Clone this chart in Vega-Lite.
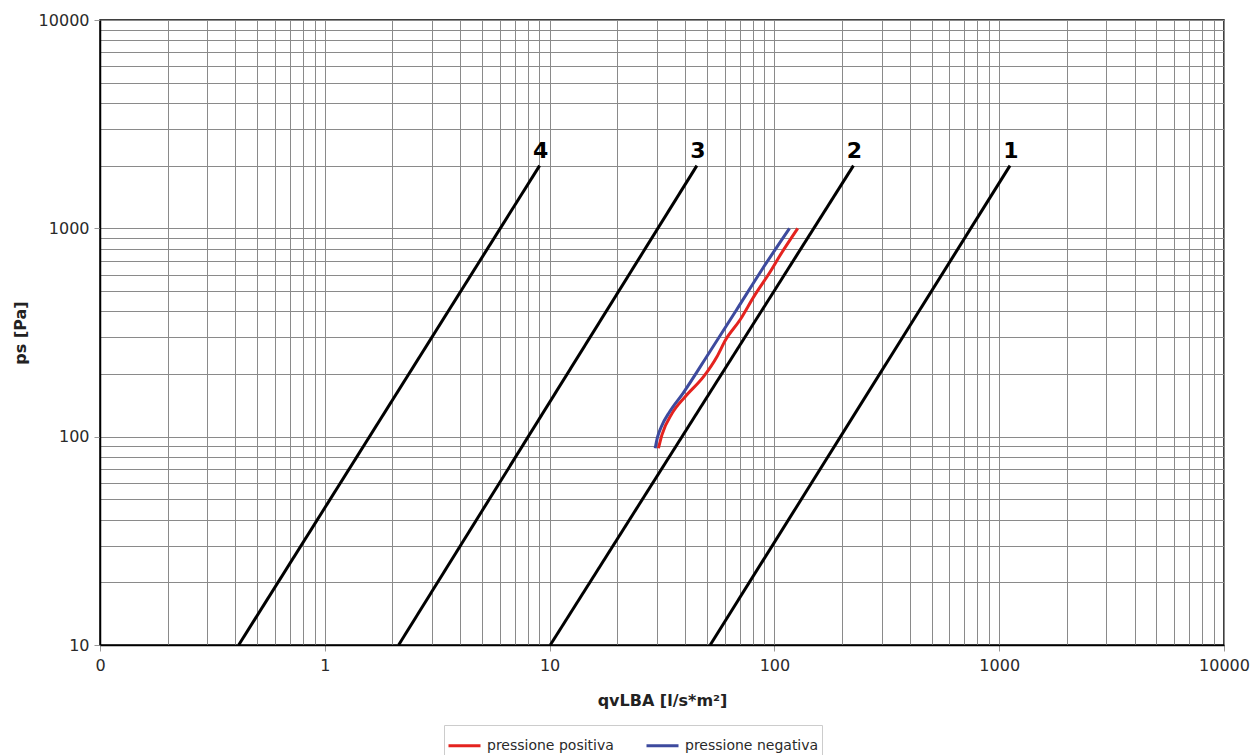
{
  "$schema": "https://vega.github.io/schema/vega-lite/v6.json",
  "width": 1124,
  "height": 625,
  "autosize": {"type": "none"},
  "padding": {"left": 100, "top": 20, "right": 30, "bottom": 110},
  "background": "white",
  "config": {
    "font": "DejaVu Sans",
    "view": {"stroke": "black", "strokeWidth": 1.5},
    "axis": {
      "domainColor": "black",
      "domainWidth": 1.5,
      "gridColor": "#8a8a8a",
      "gridWidth": 1,
      "gridOpacity": 1,
      "tickColor": "#999999",
      "tickSize": 6,
      "labelFontSize": 16,
      "labelColor": "#2a2a2a",
      "labelOverlap": false,
      "labelFlush": false,
      "titleFontSize": 16,
      "titleFontWeight": "bold",
      "titleColor": "#222222"
    }
  },
  "data": {
    "values": [
      {"s": "4", "q": 0.414, "ps": 10, "i": 0},
      {"s": "4", "q": 9.03, "ps": 2000, "i": 1},
      {"s": "3", "q": 2.13, "ps": 10, "i": 0},
      {"s": "3", "q": 45.2, "ps": 2000, "i": 1},
      {"s": "2", "q": 10.07, "ps": 10, "i": 0},
      {"s": "2", "q": 224.7, "ps": 2000, "i": 1},
      {"s": "1", "q": 51.8, "ps": 10, "i": 0},
      {"s": "1", "q": 1117, "ps": 2000, "i": 1},
      {"s": "pressione positiva", "q": 30.5, "ps": 88, "i": 0},
      {"s": "pressione positiva", "q": 31.6, "ps": 102, "i": 1},
      {"s": "pressione positiva", "q": 35.0, "ps": 129, "i": 2},
      {"s": "pressione positiva", "q": 40.1, "ps": 155.5, "i": 3},
      {"s": "pressione positiva", "q": 48.4, "ps": 194, "i": 4},
      {"s": "pressione positiva", "q": 55.5, "ps": 242, "i": 5},
      {"s": "pressione positiva", "q": 60.6, "ps": 291, "i": 6},
      {"s": "pressione positiva", "q": 70.5, "ps": 365, "i": 7},
      {"s": "pressione positiva", "q": 81.0, "ps": 470, "i": 8},
      {"s": "pressione positiva", "q": 95.8, "ps": 619, "i": 9},
      {"s": "pressione positiva", "q": 107.4, "ps": 759, "i": 10},
      {"s": "pressione positiva", "q": 127, "ps": 1000, "i": 11},
      {"s": "pressione negativa", "q": 29.5, "ps": 88, "i": 0},
      {"s": "pressione negativa", "q": 30.1, "ps": 98.2, "i": 1},
      {"s": "pressione negativa", "q": 31.4, "ps": 111.6, "i": 2},
      {"s": "pressione negativa", "q": 34.2, "ps": 131.8, "i": 3},
      {"s": "pressione negativa", "q": 39.2, "ps": 161.5, "i": 4},
      {"s": "pressione negativa", "q": 51.6, "ps": 255.8, "i": 5},
      {"s": "pressione negativa", "q": 67.8, "ps": 405.6, "i": 6},
      {"s": "pressione negativa", "q": 89.0, "ps": 645, "i": 7},
      {"s": "pressione negativa", "q": 116.7, "ps": 1000, "i": 8}
    ]
  },
  "layer": [
    {
      "transform": [{"filter": {"field": "s", "oneOf": ["1", "2", "3", "4"]}}],
      "mark": {"type": "line", "color": "black", "strokeWidth": 3},
      "encoding": {
        "x": {
          "field": "q",
          "type": "quantitative",
          "scale": {"type": "log", "domain": [0.1, 10000]},
          "axis": {
            "title": "qvLBA [l/s*m²]",
            "values": [0.1,0.2,0.3,0.4,0.5,0.6,0.7,0.8,0.9,1,2,3,4,5,6,7,8,9,10,20,30,40,50,60,70,80,90,100,200,300,400,500,600,700,800,900,1000,2000,3000,4000,5000,6000,7000,8000,9000,10000],
            "labelExpr": "datum.value == 0.1 ? '0' : ((datum.value == 1 || datum.value == 10 || datum.value == 100 || datum.value == 1000 || datum.value == 10000) ? format(datum.value, 'd') : '')",
            "tickOpacity": {"condition": {"test": "datum.value == 0.1 || datum.value == 1 || datum.value == 10 || datum.value == 100 || datum.value == 1000 || datum.value == 10000", "value": 1}, "value": 0},
            "labelPadding": 6,
            "titlePadding": 19
          }
        },
        "y": {
          "field": "ps",
          "type": "quantitative",
          "scale": {"type": "log", "domain": [10, 10000]},
          "axis": {
            "title": "ps [Pa]",
            "values": [10,20,30,40,50,60,70,80,90,100,200,300,400,500,600,700,800,900,1000,2000,3000,4000,5000,6000,7000,8000,9000,10000],
            "labelExpr": "(datum.value == 10 || datum.value == 100 || datum.value == 1000 || datum.value == 10000) ? format(datum.value, 'd') : ''",
            "tickOpacity": {"condition": {"test": "datum.value == 10 || datum.value == 100 || datum.value == 1000 || datum.value == 10000", "value": 1}, "value": 0},
            "labelPadding": 5,
            "titlePadding": 10
          }
        },
        "detail": {"field": "s"},
        "order": {"field": "i"}
      }
    },
    {
      "transform": [{"filter": {"field": "s", "oneOf": ["pressione positiva", "pressione negativa"]}}],
      "mark": {"type": "line", "strokeWidth": 3, "interpolate": "monotone"},
      "encoding": {
        "x": {"field": "q", "type": "quantitative"},
        "y": {"field": "ps", "type": "quantitative"},
        "order": {"field": "i"},
        "color": {
          "field": "s",
          "type": "nominal",
          "scale": {"domain": ["pressione positiva", "pressione negativa"], "range": ["#e4231f", "#3d4a9e"]},
          "legend": {
            "title": null,
            "orient": "none",
            "legendX": 344,
            "legendY": 705,
            "direction": "horizontal",
            "symbolType": "stroke",
            "symbolSize": 1024,
            "symbolStrokeWidth": 3,
            "labelFontSize": 14,
            "labelColor": "#2a2a2a",
            "labelOffset": 5,
            "columnPadding": 26,
            "labelExpr": "datum.label == 'pressione negativa' ? datum.label + '\u00a0\u00a0\u00a0\u00a0' : datum.label",
            "strokeColor": "#cccccc",
            "fillColor": "white",
            "padding": 3
          }
        }
      }
    },
    {
      "transform": [{"filter": {"field": "s", "oneOf": ["1", "2", "3", "4"]}}, {"filter": "datum.i == 1"}],
      "mark": {"type": "text", "fontWeight": "bold", "fontSize": 22, "baseline": "alphabetic", "align": "center", "dy": -8, "dx": 1, "color": "black"},
      "encoding": {
        "x": {"field": "q", "type": "quantitative"},
        "y": {"field": "ps", "type": "quantitative"},
        "text": {"field": "s"}
      }
    }
  ]
}
